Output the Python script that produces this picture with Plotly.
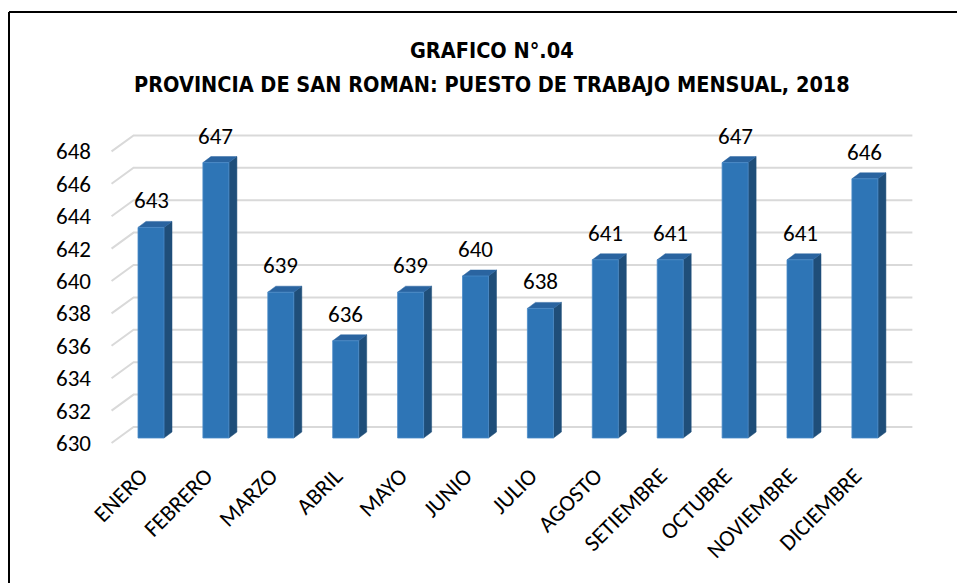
import plotly.graph_objects as go

months = ["ENERO", "FEBRERO", "MARZO", "ABRIL", "MAYO", "JUNIO", "JULIO",
          "AGOSTO", "SETIEMBRE", "OCTUBRE", "NOVIEMBRE", "DICIEMBRE"]
values = [643, 647, 639, 636, 639, 640, 638, 641, 641, 647, 641, 646]
y_ticks = [630, 632, 634, 636, 638, 640, 642, 644, 646, 648]
title_lines = ["GRAFICO N°.04", "PROVINCIA DE SAN ROMAN: PUESTO DE TRABAJO MENSUAL, 2018"]

W, H = 957, 583
L, R, T, B = 100, 17, 110, 128
XR = [-0.786, 12.157]
YR = [629.259, 650.556]
pxx = (W - L - R) / (XR[1] - XR[0])
pxy = (H - T - B) / (YR[1] - YR[0])

# 3D offsets (pixels -> data units)
FRONT_DX, FRONT_DY = -7 / pxx, -5 / pxy     # front plane relative to bar plane
BACK_DX, BACK_DY = 15 / pxx, 11 / pxy       # back wall relative to bar plane
BAR_DX, BAR_DY = 8 / pxx, 6 / pxy           # bar depth
HALF_W = 13 / pxx
LABEL_DX = -10 / pxx
BASE = y_ticks[0]
LIFT = -FRONT_DY   # bar plane above the front plane (in y units)

FRONT_C = "#2E75B6"
SIDE_C = "#1F4E79"
TOP_C = "#2A64A0"
GRID_C = "#D9D9D9"
FONT = "Carlito, Lato, 'Liberation Sans', sans-serif"
TITLE_FONT = "'Liberation Sans Narrow', 'Arial Narrow', 'DejaVu Sans Condensed', sans-serif"

fig = go.Figure()

# back wall gridlines + left wall diagonals
x_left_back = -0.5 + BACK_DX
x_right_back = len(months) - 0.5 + BACK_DX
x_left_front = -0.5 + FRONT_DX
for v in y_ticks:
    yb = v + LIFT + BACK_DY
    fig.add_trace(go.Scatter(x=[x_left_front, x_left_back, x_right_back], y=[v, yb, yb],
                             mode="lines", line=dict(color=GRID_C, width=2),
                             hoverinfo="skip", showlegend=False))

# bars
for i, v in enumerate(values):
    y0 = BASE + LIFT
    y1 = v + LIFT
    xl, xr = i - HALF_W, i + HALF_W
    fig.add_trace(go.Scatter(x=[xr, xr + BAR_DX, xr + BAR_DX, xr, xr],
                             y=[y0, y0 + BAR_DY, y1 + BAR_DY, y1, y0],
                             fill="toself", fillcolor=SIDE_C, mode="lines",
                             line=dict(color=SIDE_C, width=0.5),
                             hoverinfo="skip", showlegend=False))
    fig.add_trace(go.Scatter(x=[xl, xr, xr + BAR_DX, xl + BAR_DX, xl],
                             y=[y1, y1, y1 + BAR_DY, y1 + BAR_DY, y1],
                             fill="toself", fillcolor=TOP_C, mode="lines",
                             line=dict(color=TOP_C, width=0.5),
                             hoverinfo="skip", showlegend=False))
    fig.add_trace(go.Scatter(x=[xl, xr, xr, xl, xl],
                             y=[y0, y0, y1, y1, y0],
                             fill="toself", fillcolor=FRONT_C, mode="lines",
                             line=dict(color="#4A8AC8", width=0.8),
                             hoverinfo="skip", showlegend=False))
    fig.add_annotation(x=i, y=y1 + BAR_DY, text=str(v), showarrow=False,
                       yanchor="bottom", yshift=5,
                       font=dict(family=FONT, size=23, color="#000000"))

def px_to_paper_x(p):
    return (p - L) / (W - L - R)

def px_to_paper_y(p):
    return 1 - (p - T) / (H - T - B)

fig.add_shape(type="line", xref="paper", yref="paper",
              x0=px_to_paper_x(9), x1=px_to_paper_x(9),
              y0=px_to_paper_y(12), y1=px_to_paper_y(600),
              line=dict(color="#000000", width=2))
fig.add_shape(type="line", xref="paper", yref="paper",
              x0=px_to_paper_x(9), x1=px_to_paper_x(980),
              y0=px_to_paper_y(12), y1=px_to_paper_y(12),
              line=dict(color="#000000", width=2))

for k, line in enumerate(title_lines):
    fig.add_annotation(xref="paper", yref="paper",
                       x=px_to_paper_x(492), y=px_to_paper_y(50 + 35 * k),
                       text="<b>" + line + "</b>", showarrow=False,
                       xanchor="center", yanchor="middle",
                       font=dict(family=TITLE_FONT, size=21.5, color="#000000"))

fig.update_layout(
    width=W, height=H,
    margin=dict(l=L, r=R, t=T, b=B, autoexpand=False),
    paper_bgcolor="white", plot_bgcolor="white",
    xaxis=dict(range=XR, showgrid=False, zeroline=False, showline=False, automargin=False,
               tickmode="array", tickvals=[i + LABEL_DX for i in range(len(months))],
               ticktext=months, tickangle=-45, ticks="", ticklabelstandoff=2,
               tickfont=dict(family=FONT, size=23, color="#000000")),
    yaxis=dict(range=YR, showgrid=False, zeroline=False, showline=False, automargin=False,
               tickmode="array", tickvals=y_ticks, ticktext=[str(t) for t in y_ticks],
               ticks="", ticklabelstandoff=8,
               tickfont=dict(family=FONT, size=23, color="#000000")),
)

fig.write_html("out.html", config={"displayModeBar": False},
               post_script="document.body.style.margin='0';")
